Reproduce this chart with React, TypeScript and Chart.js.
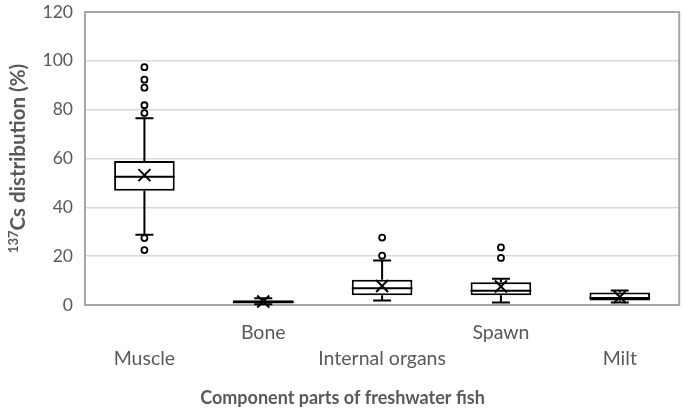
import React, { useEffect, useRef } from "react";
import { Chart, registerables } from "chart.js";

Chart.register(...registerables);

// ---- data ----
const categories = ["Muscle", "Bone", "Internal organs", "Spawn", "Milt"];
const labelRow = [1, 0, 1, 0, 1]; // 0 = upper line, 1 = lower line
const minValues = [28.8, 0.3, 1.8, 1.0, 1.0];
const q1Values = [46.8, 0.6, 4.0, 4.0, 1.8];
const medianValues = [52.5, 1.2, 6.9, 5.8, 2.9];
const q3Values = [59.0, 1.9, 10.3, 9.3, 5.1];
const maxValues = [76.5, 2.8, 18.2, 10.7, 5.9];
const meanValues = [53.2, 1.4, 7.8, 7.6, 3.3];
const outlierValues: number[][] = [
  [97.4, 92.3, 89.0, 81.8, 78.6, 27.4, 22.5],
  [],
  [27.6, 20.2],
  [23.6, 19.3],
  [],
];
const yTicks = [0, 20, 40, 60, 80, 100, 120];
const xTitle = "Component parts of freshwater fish";
const yTitleSup = "137";
const yTitleMain = "Cs distribution (%)";

const TEXT = "#595959";
const FONT = "Lato";

const boxPlugin = {
  id: "boxExtras",
  beforeDatasetsDraw(chart: any) {
    const { ctx, chartArea } = chart;
    ctx.save();
    ctx.strokeStyle = "#a6a6a6";
    ctx.lineWidth = 2;
    ctx.strokeRect(chartArea.left, chartArea.top, chartArea.right - chartArea.left, chartArea.bottom - chartArea.top);
    ctx.restore();
    // whiskers
    const x = chart.scales.x;
    const y = chart.scales.y;
    ctx.save();
    ctx.strokeStyle = "#000";
    ctx.lineWidth = 2;
    categories.forEach((_, i) => {
      const cx = x.getPixelForValue(i);
      const capHalf = 9;
      ctx.beginPath();
      ctx.moveTo(cx, y.getPixelForValue(q3Values[i]));
      ctx.lineTo(cx, y.getPixelForValue(maxValues[i]));
      ctx.moveTo(cx, y.getPixelForValue(q1Values[i]));
      ctx.lineTo(cx, y.getPixelForValue(minValues[i]));
      ctx.moveTo(cx - capHalf, y.getPixelForValue(maxValues[i]));
      ctx.lineTo(cx + capHalf, y.getPixelForValue(maxValues[i]));
      ctx.moveTo(cx - capHalf, y.getPixelForValue(minValues[i]));
      ctx.lineTo(cx + capHalf, y.getPixelForValue(minValues[i]));
      ctx.stroke();
    });
    ctx.restore();
  },
  afterDatasetsDraw(chart: any) {
    const { ctx } = chart;
    const x = chart.scales.x;
    const y = chart.scales.y;
    const meta = chart.getDatasetMeta(0);
    ctx.save();
    ctx.strokeStyle = "#000";
    ctx.lineWidth = 2;
    categories.forEach((_, i) => {
      const cx = x.getPixelForValue(i);
      const bar = meta.data[i];
      const half = bar.width / 2;
      const my = y.getPixelForValue(medianValues[i]);
      ctx.beginPath();
      ctx.moveTo(cx - half, my);
      ctx.lineTo(cx + half, my);
      ctx.stroke();
      const mean = y.getPixelForValue(meanValues[i]);
      const s = 6;
      ctx.beginPath();
      ctx.moveTo(cx - s, mean - s);
      ctx.lineTo(cx + s, mean + s);
      ctx.moveTo(cx + s, mean - s);
      ctx.lineTo(cx - s, mean + s);
      ctx.stroke();
    });
    ctx.restore();
  },
  afterDraw(chart: any) {
    const { ctx, chartArea } = chart;
    ctx.save();
    ctx.fillStyle = TEXT;
    // x title
    ctx.font = `bold 18px ${FONT}`;
    ctx.textAlign = "center";
    ctx.textBaseline = "middle";
    ctx.fillText(xTitle, chart.width / 2, 398);
    // y title with superscript
    ctx.translate(15, (chartArea.top + chartArea.bottom) / 2);
    ctx.rotate(-Math.PI / 2);
    const supFont = `bold 13px ${FONT}`;
    const mainFont = `bold 20.5px ${FONT}`;
    ctx.font = supFont;
    const wSup = ctx.measureText(yTitleSup).width;
    ctx.font = mainFont;
    const wMain = ctx.measureText(yTitleMain).width;
    const total = wSup + wMain;
    ctx.textAlign = "left";
    ctx.textBaseline = "alphabetic";
    ctx.font = supFont;
    ctx.fillText(yTitleSup, -total / 2, 3);
    ctx.font = mainFont;
    ctx.fillText(yTitleMain, -total / 2 + wSup, 10);
    ctx.restore();
  },
};

export default function App() {
  const ref = useRef<HTMLCanvasElement | null>(null);
  useEffect(() => {
    if (!ref.current) return;
    const outlierPoints: { x: string; y: number }[] = [];
    outlierValues.forEach((arr, i) => arr.forEach((v) => outlierPoints.push({ x: categories[i], y: v })));
    const chart = new Chart(ref.current, {
      type: "bar",
      data: {
        labels: categories,
        datasets: [
          {
            type: "bar",
            data: categories.map((_, i) => [q1Values[i], q3Values[i]]),
            backgroundColor: "#ffffff",
            borderColor: "#000000",
            borderWidth: 2,
            borderSkipped: false,
            barPercentage: 0.51,
            categoryPercentage: 1,
          } as any,
          {
            type: "line",
            data: outlierPoints as any,
            showLine: false,
            pointRadius: 3,
            pointBorderWidth: 1.8,
            pointBackgroundColor: "#ffffff",
            pointBorderColor: "#000000",
            borderColor: "#000000",
          } as any,
        ],
      },
      options: {
        animation: false,
        responsive: true,
        maintainAspectRatio: false,
        layout: { padding: { top: 12, right: 2, left: 0, bottom: 0 } },
        plugins: { legend: { display: false }, tooltip: { enabled: false } },
        scales: {
          x: {
            grid: { display: false, drawTicks: false },
            border: { display: false },
            ticks: {
              color: TEXT,
              font: { family: FONT, size: 19.5, lineHeight: 26 / 19.5 } as any,
              padding: 15,
              maxRotation: 0,
              autoSkip: false,
              callback: (_v: any, i: number) => (labelRow[i] === 1 ? ["", categories[i]] : [categories[i]]),
            },
            afterFit(scale: any) {
              scale.height = 108;
              scale.paddingLeft = 0;
              scale.paddingRight = 0;
            },
          },
          y: {
            min: 0,
            max: 120,
            afterBuildTicks(scale: any) {
              scale.ticks = yTicks.map((v) => ({ value: v }));
            },
            grid: { color: "#d9d9d9", lineWidth: 1.5, drawTicks: false },
            border: { display: false },
            ticks: {
              color: TEXT,
              font: { family: FONT, size: 17.5 },
              padding: 12,
            },
            afterFit(scale: any) {
              scale.width = 85;
              scale.paddingTop = 0;
              scale.paddingBottom = 0;
            },
          },
        },
      },
      plugins: [boxPlugin],
    });
    return () => chart.destroy();
  }, []);
  return (
    <div style={{ position: "fixed", left: 0, top: 0, width: 685, height: 413, background: "#fff" }}>
      <canvas ref={ref} />
    </div>
  );
}
